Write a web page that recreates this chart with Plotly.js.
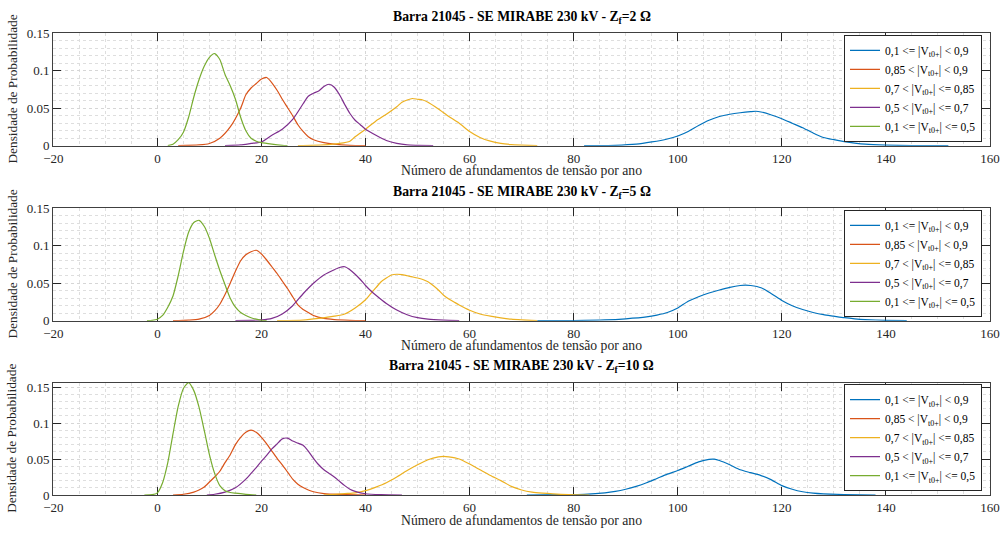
<!DOCTYPE html>
<html>
<head>
<meta charset="utf-8">
<script src="https://cdn.plot.ly/plotly-3.0.1.min.js"></script>
<style>html,body{margin:0;padding:0;background:#fff;}#chart{width:1003px;height:534px;}</style>
</head>
<body>
<div id="chart"></div>
<script>
// ---------- labels ----------
const seriesNames = [
  "0,1 &lt;= |V<sub>t0+</sub>| &lt; 0,9",
  "0,85 &lt; |V<sub>t0+</sub>| &lt; 0,9",
  "0,7 &lt; |V<sub>t0+</sub>| &lt;= 0,85",
  "0,5 &lt; |V<sub>t0+</sub>| &lt;= 0,7",
  "0,1 &lt;= |V<sub>t0+</sub>| &lt;= 0,5"
];
const panelTitles = [
  "<b>Barra 21045 - SE MIRABE 230 kV - Z<sub>f</sub>=2 Ω</b>",
  "<b>Barra 21045 - SE MIRABE 230 kV - Z<sub>f</sub>=5 Ω</b>",
  "<b>Barra 21045 - SE MIRABE 230 kV - Z<sub>f</sub>=10 Ω</b>"
];
const xAxisTitle = "Número de afundamentos de tensão por ano";
const yAxisTitle = "Densidade de Probabilidade";
const xTickVals = [-20, 0, 20, 40, 60, 80, 100, 120, 140, 160];
const yTickVals = [0, 0.05, 0.1, 0.15];
const yTickText = ["0", "0.05", "0.1", "0.15"];

// ---------- Zf = 2 ohm ----------
const z2_blue_x = [82,88,92,95,98,100,102,104,106,108,110,112,114,115,116,118,120,122,124,126,128,130,132,134,136,140,145,152];
const z2_blue_y = [0,0.0005,0.002,0.005,0.009,0.013,0.019,0.027,0.034,0.039,0.042,0.044,0.0455,0.046,0.045,0.041,0.036,0.030,0.024,0.017,0.011,0.008,0.0055,0.0035,0.002,0.0008,0.0002,0];
const z2_orange_x = [4,8,10,12,14,16,17,18,19,20,21,22,23,24,25,26,27,28,29,30,32,34,37,40];
const z2_orange_y = [0,0.001,0.003,0.010,0.025,0.050,0.068,0.077,0.083,0.089,0.091,0.084,0.074,0.062,0.051,0.040,0.028,0.019,0.012,0.008,0.004,0.002,0.0005,0];
const z2_yellow_x = [27,32,35,37,38,40,42,44,46,47,48,49,50,51,52,54,56,58,60,62,64,66,68,70,73];
const z2_yellow_y = [0,0.001,0.003,0.006,0.012,0.022,0.033,0.042,0.052,0.058,0.061,0.063,0.062,0.061,0.058,0.049,0.039,0.030,0.019,0.011,0.006,0.003,0.0015,0.0008,0];
const z2_purple_x = [13,16,18,20,22,24,26,28,29,30,31,32,33,34,35,36,37,38,39,40,42,44,46,48,50,53];
const z2_purple_y = [0,0.001,0.003,0.005,0.014,0.022,0.035,0.056,0.066,0.070,0.073,0.079,0.082,0.078,0.068,0.055,0.043,0.034,0.028,0.022,0.014,0.007,0.003,0.001,0.0005,0];
const z2_green_x = [2,3,4,5,6,7,8,9,10,11,12,13,14,15,16,17,18,19,20,22,24,25];
const z2_green_y = [0,0.002,0.008,0.018,0.038,0.065,0.088,0.106,0.118,0.123,0.115,0.095,0.080,0.062,0.038,0.020,0.010,0.006,0.004,0.002,0.0005,0];

// ---------- Zf = 5 ohm ----------
const z5_blue_x = [73,80,86,90,94,96,98,100,102,104,106,108,110,112,113,114,116,118,120,122,124,126,128,130,132,134,136,140,144];
const z5_blue_y = [0,0.0003,0.001,0.0025,0.005,0.0075,0.011,0.017,0.026,0.032,0.037,0.041,0.0445,0.047,0.0475,0.047,0.044,0.036,0.027,0.020,0.015,0.011,0.008,0.006,0.004,0.0025,0.0015,0.0005,0];
const z5_orange_x = [3,6,8,10,11,12,13,14,15,16,17,18,19,20,21,22,23,24,25,26,27,28,29,30,32,34,37,40];
const z5_orange_y = [0,0.0008,0.002,0.007,0.013,0.022,0.035,0.050,0.066,0.080,0.088,0.092,0.094,0.089,0.081,0.072,0.063,0.053,0.043,0.032,0.021,0.015,0.011,0.007,0.003,0.0015,0.0005,0];
const z5_yellow_x = [23,28,31,34,36,38,40,41,42,43,44,45,46,47,48,49,50,51,52,53,54,55,56,57,58,60,62,64,66,68,70,73];
const z5_yellow_y = [0,0.0008,0.003,0.006,0.009,0.017,0.028,0.036,0.044,0.052,0.057,0.061,0.062,0.0615,0.060,0.0585,0.057,0.055,0.052,0.047,0.041,0.034,0.029,0.025,0.021,0.014,0.009,0.006,0.0038,0.002,0.001,0];
const z5_purple_x = [15,18,20,22,24,26,28,30,32,34,35,36,37,38,39,40,41,42,44,46,48,50,52,55,58];
const z5_purple_y = [0,0.0005,0.001,0.003,0.009,0.020,0.036,0.050,0.061,0.068,0.071,0.072,0.068,0.062,0.055,0.047,0.040,0.034,0.023,0.0143,0.008,0.004,0.002,0.0007,0];
const z5_green_x = [-2,-1,0,1,2,3,4,5,6,7,8,9,10,11,12,13,14,15,16,17,18,19,20,21];
const z5_green_y = [0,0.0005,0.002,0.007,0.018,0.033,0.060,0.092,0.118,0.131,0.134,0.126,0.110,0.088,0.067,0.048,0.030,0.018,0.011,0.007,0.004,0.002,0.0005,0];

// ---------- Zf = 10 ohm ----------
const z10_blue_x = [71,78,82,86,88,90,92,94,96,98,100,102,104,106,107,108,110,112,114,116,118,120,122,124,126,128,132,138];
const z10_blue_y = [0,0.0005,0.001,0.003,0.005,0.008,0.012,0.017,0.023,0.029,0.034,0.040,0.046,0.0495,0.0498,0.048,0.042,0.035,0.031,0.027,0.021,0.013,0.008,0.0045,0.0025,0.0015,0.0007,0];
const z10_orange_x = [3,5,7,8,9,10,11,12,13,14,15,16,17,18,19,20,21,22,23,24,25,26,27,28,29,30,32,35,40];
const z10_orange_y = [0,0.001,0.004,0.007,0.011,0.018,0.025,0.033,0.045,0.056,0.070,0.080,0.087,0.090,0.087,0.080,0.071,0.061,0.051,0.042,0.032,0.022,0.015,0.0105,0.007,0.0045,0.002,0.0008,0];
const z10_yellow_x = [32,36,38,40,42,44,46,48,50,52,54,55,56,58,60,62,64,66,68,70,72,74,76,79,83];
const z10_yellow_y = [0,0.002,0.003,0.006,0.011,0.017,0.025,0.034,0.042,0.049,0.053,0.0537,0.053,0.050,0.043,0.035,0.027,0.020,0.012,0.007,0.004,0.0025,0.0015,0.0005,0];
const z10_purple_x = [9.5,11,13,15,17,18,19,20,21,22,23,24,25,26,27,28,29,30,31,32,33,34,35,36,37,38,40,43,47];
const z10_purple_y = [0,0.001,0.004,0.010,0.022,0.030,0.038,0.047,0.055,0.064,0.071,0.078,0.079,0.075,0.072,0.069,0.061,0.051,0.042,0.035,0.030,0.025,0.019,0.013,0.008,0.005,0.0017,0.0005,0];
const z10_green_x = [-2.5,-1,0,1,2,3,4,5,6,7,8,9,10,11,12,13,14,15,17,19];
const z10_green_y = [0,0.0005,0.003,0.017,0.045,0.085,0.123,0.148,0.156,0.145,0.122,0.090,0.056,0.030,0.013,0.006,0.0035,0.0025,0.001,0];

const colors = ["#0072BD", "#D95319", "#EDB120", "#7E2F8E", "#77AC30"];
const panels = [
  {xs:[z2_blue_x,z2_orange_x,z2_yellow_x,z2_purple_x,z2_green_x], ys:[z2_blue_y,z2_orange_y,z2_yellow_y,z2_purple_y,z2_green_y], ymax:0.15},
  {xs:[z5_blue_x,z5_orange_x,z5_yellow_x,z5_purple_x,z5_green_x], ys:[z5_blue_y,z5_orange_y,z5_yellow_y,z5_purple_y,z5_green_y], ymax:0.15},
  {xs:[z10_blue_x,z10_orange_x,z10_yellow_x,z10_purple_x,z10_green_x], ys:[z10_blue_y,z10_orange_y,z10_yellow_y,z10_purple_y,z10_green_y], ymax:0.156}
];

const W = 1003, H = 534;
const plotLeft = 53.3, plotRight = 990;
const panelPx = [[33.3,145.7],[208.3,320.7],[382.7,495]];
const FONT = "Liberation Serif, Times New Roman, serif";

const traces = [];
const layout = {
  width: W, height: H,
  margin: {l:0, r:0, t:0, b:0},
  paper_bgcolor: "#ffffff", plot_bgcolor: "#ffffff",
  font: {family: FONT, size: 13, color: "#262626"},
  annotations: [],
  showlegend: true
};

panels.forEach((p, pi) => {
  const sfx = pi === 0 ? "" : String(pi + 1);
  const legendId = "legend" + sfx;
  for (let s = 0; s < 5; s++) {
    traces.push({
      type: "scatter", mode: "lines",
      x: p.xs[s], y: p.ys[s],
      name: seriesNames[s],
      line: {color: colors[s], width: 1.2, shape: "spline", smoothing: 0.6},
      xaxis: "x" + sfx, yaxis: "y" + sfx,
      legend: legendId,
      hoverinfo: "skip"
    });
  }
  const top = panelPx[pi][0], bot = panelPx[pi][1];
  const ydom = [1 - bot / H, 1 - top / H];
  const common = {
    showline: true, mirror: "ticks", linecolor: "#404040", linewidth: 1.2,
    ticks: "inside", ticklen: 8, tickwidth: 1, tickcolor: "#262626",
    showgrid: true, gridcolor: "#d6d6d6", griddash: "dot", gridwidth: 1,
    zeroline: false, automargin: false, layer: "below traces",
    tickfont: {family: FONT, size: 13, color: "#262626"}
  };
  layout["xaxis" + sfx] = Object.assign({}, common, {
    domain: [plotLeft / W, plotRight / W],
    anchor: "y" + sfx,
    range: [-20, 160], tickmode: "array", tickvals: xTickVals,
    minor: {dtick: 5, showgrid: true, gridcolor: "#dedede", griddash: "dot", gridwidth: 1, ticks: ""}
  });
  layout["yaxis" + sfx] = Object.assign({}, common, {
    domain: ydom,
    anchor: "x" + sfx,
    range: [0, p.ymax], tickmode: "array", tickvals: yTickVals, ticktext: yTickText,
    minor: {dtick: 0.01, showgrid: true, gridcolor: "#dedede", griddash: "dot", gridwidth: 1, ticks: ""}
  });
  layout[legendId] = {
    x: 982 / W, xanchor: "right", xref: "paper",
    y: 1 - (top + 1.5) / H, yanchor: "top", yref: "paper",
    bgcolor: "#ffffff", bordercolor: "#262626", borderwidth: 1,
    font: {family: FONT, size: 11.5, color: "#000000"},
    tracegroupgap: 0, itemwidth: 30
  };
  // panel title
  layout.annotations.push({
    text: panelTitles[pi], xref: "paper", yref: "paper",
    x: 521.5 / W, y: 1 - (top - 16) / H, xanchor: "center", yanchor: "middle",
    showarrow: false, font: {family: FONT, size: 13.7, color: "#000000"}
  });
  // x-axis title
  layout.annotations.push({
    text: xAxisTitle, xref: "paper", yref: "paper",
    x: 521.5 / W, y: 1 - (bot + 25) / H, xanchor: "center", yanchor: "middle",
    showarrow: false, font: {family: FONT, size: 13.7, color: "#262626"}
  });
  // y-axis title
  layout.annotations.push({
    text: yAxisTitle, xref: "paper", yref: "paper",
    x: 12 / W, y: 1 - ((top + bot) / 2) / H, xanchor: "center", yanchor: "middle",
    textangle: -90, showarrow: false, font: {family: FONT, size: 13.3, color: "#262626"}
  });
});

Plotly.newPlot("chart", traces, layout, {displayModeBar: false, staticPlot: true});
</script>
</body>
</html>
